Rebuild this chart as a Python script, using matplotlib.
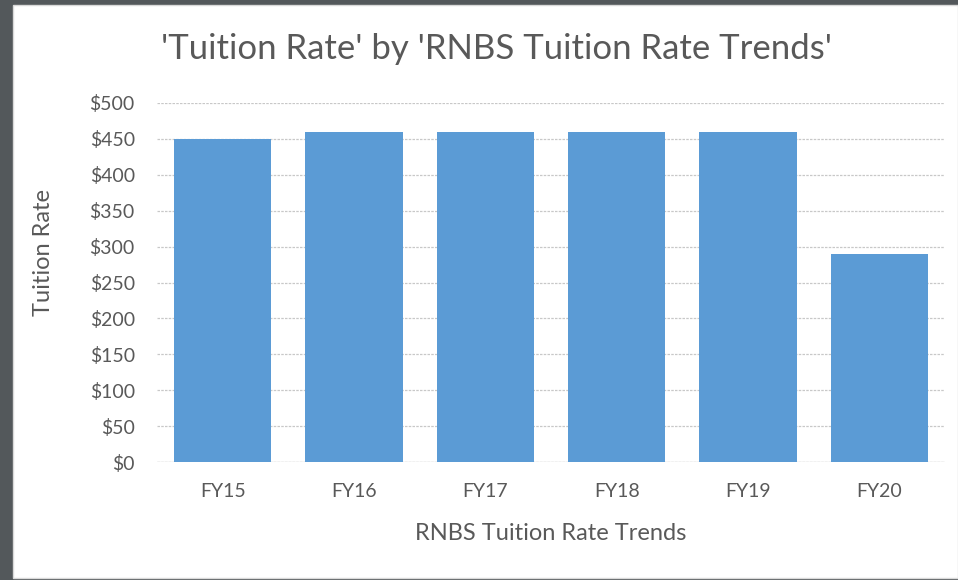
import matplotlib.pyplot as plt
from matplotlib.patches import Rectangle

# dados do gráfico
anos = ["FY15", "FY16", "FY17", "FY18", "FY19", "FY20"]
valores = [450, 460, 460, 460, 460, 290]
ticks_y = [0, 50, 100, 150, 200, 250, 300, 350, 400, 450, 500]

cinza = "#595959"
plt.rcParams["font.family"] = ["Lato", "DejaVu Sans"]

fig = plt.figure(figsize=(9.58, 5.80), dpi=100, facecolor="#53585b")
# fundo branco do gráfico
fig.patches.append(Rectangle((13 / 958, 2 / 580), 945 / 958, 573 / 580,
                             transform=fig.transFigure, facecolor="white",
                             edgecolor="#d9d9d9", lw=1, zorder=-5))

ax = fig.add_axes([157 / 958, 1 - 462 / 580, 788 / 958, 359 / 580])
ax.set_facecolor("none")
ax.bar(range(len(anos)), valores, width=0.74, color="#5B9BD5", zorder=3)

ax.set_xlim(-0.5, len(anos) - 0.5)
ax.set_ylim(0, 500)
ax.set_yticks(ticks_y)
ax.set_yticklabels([f"${v}" for v in ticks_y])
ax.set_xticks(range(len(anos)))
ax.set_xticklabels(anos)
ax.tick_params(length=0, labelsize=14, colors=cinza)
ax.tick_params(axis="y", pad=16)
ax.tick_params(axis="x", pad=15)

ax.grid(axis="y", color="#c8c8c8", linestyle=(0, (2, 1)), lw=0.9, zorder=0)
for lado in ax.spines.values():
    lado.set_visible(False)
ax.axhline(0, color="#c8c8c8", lw=0.9, zorder=1)

# títulos dos eixos
fig.text(551 / 958, 1 - 533 / 580, "RNBS Tuition Rate Trends",
         ha="center", va="center", fontsize=17, color=cinza)
fig.text(44 / 958, 1 - 252 / 580, "Tuition Rate", rotation=90,
         ha="center", va="center", fontsize=17, color=cinza)
fig.text(497 / 958, 1 - 49 / 580, "'Tuition Rate' by 'RNBS Tuition Rate Trends'",
         ha="center", va="center", fontsize=25, color=cinza)

fig.savefig("out.png", dpi=100, facecolor=fig.get_facecolor())
